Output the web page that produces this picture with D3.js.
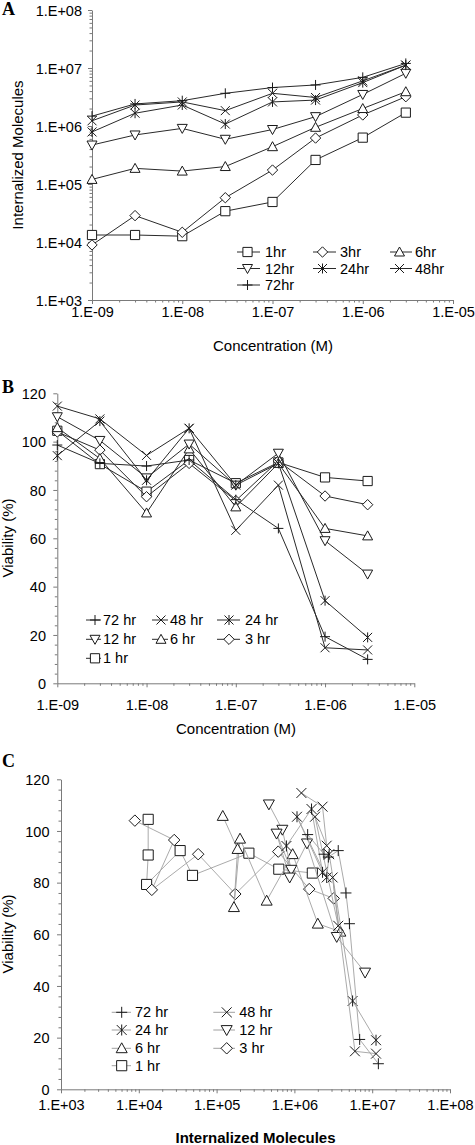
<!DOCTYPE html>
<html><head><meta charset="utf-8">
<script src="https://cdn.jsdelivr.net/npm/d3@7"></script>
<style>
body{margin:0;background:#fff;}
svg text{font-family:"Liberation Sans",Arial,sans-serif;fill:#000;}
</style></head><body>
<svg id="chart" width="475" height="1145"></svg>
<script>
// ---------- DATA ----------
const concentrations = [1e-9, 3e-9, 1e-8, 3e-8, 1e-7, 3e-7, 1e-6, 3e-6];
const seriesNames = ["1hr", "3hr", "6hr", "12hr", "24hr", "48hr", "72hr"];
const markerTypes = ["square", "diamond", "triUp", "triDown", "asterisk", "cross", "plus"];

// Panel A: internalized molecules per concentration
const molecules1hr  = [1.32e4, 1.32e4, 1.26e4, 3.4e4, 4.9e4, 2.6e5, 6.3e5, 1.7e6];
const molecules3hr  = [8.9e3, 2.85e4, 1.47e4, 5.8e4, 1.74e5, 6.2e5, 1.55e6, 3.2e6];
const molecules6hr  = [1.2e5, 1.86e5, 1.67e5, 2.0e5, 4.4e5, 9.5e5, 2.0e6, 3.9e6];
const molecules12hr = [4.7e5, 7.0e5, 9.1e5, 5.9e5, 8.7e5, 1.45e6, 3.5e6, 8.1e6];
const molecules24hr = [7.9e5, 1.66e6, 2.3e6, 1.08e6, 2.6e6, 2.8e6, 5.6e6, 1.12e7];
const molecules48hr = [1.23e6, 2.3e6, 2.6e6, 1.84e6, 3.66e6, 3.1e6, 6.0e6, 1.12e7];
const molecules72hr = [1.48e6, 2.4e6, 2.73e6, 3.66e6, 4.6e6, 5.1e6, 6.9e6, 1.2e7];

// Panel B: viability (%) per concentration
const viability1hr  = [104.5, 90.7, 79.3, 92.4, 82.8, 91.4, 85.2, 83.7];
const viability3hr  = [104, 96.5, 77.2, 91, 75.6, 92, 77.5, 73.9];
const viability6hr  = [105.8, 93, 70.5, 97, 73, 91, 64.1, 61];
const viability12hr = [110.3, 100.5, 85, 99, 82, 95.2, 59, 45.2];
const viability24hr = [94.2, 108.5, 84, 105.5, 82, 91, 34.2, 19];
const viability48hr = [114.7, 109.4, 94.3, 105.5, 63.3, 82, 14.7, 13.8];
const viability72hr = [98.6, 91, 89.9, 92.4, 76, 64.1, 19.3, 9.9];

const moleculeTicks = [1e3, 1e4, 1e5, 1e6, 1e7, 1e8];
const moleculeTickLabels = ["1.E+03", "1.E+04", "1.E+05", "1.E+06", "1.E+07", "1.E+08"];
const concTicks = [1e-9, 1e-8, 1e-7, 1e-6, 1e-5];
const concTickLabels = ["1.E-09", "1.E-08", "1.E-07", "1.E-06", "1.E-05"];
const viabilityTicks = [0, 20, 40, 60, 80, 100, 120];

const legendA = ["1hr", "3hr", "6hr", "12hr", "24hr", "48hr", "72hr"];
const legendB = ["72 hr", "48 hr", "24 hr", "12 hr", "6 hr", "3 hr", "1 hr"];
const legendC = ["72 hr", "48 hr", "24 hr", "12 hr", "6 hr", "3 hr", "1 hr"];

const moleculesBySeries = [molecules1hr, molecules3hr, molecules6hr, molecules12hr, molecules24hr, molecules48hr, molecules72hr];
const viabilityBySeries = [viability1hr, viability3hr, viability6hr, viability12hr, viability24hr, viability48hr, viability72hr];

// ---------- HELPERS ----------
const svg = d3.select("#chart");
const AXIS = "#7a7a7a";

function markerPath(type, k) {
  const s = 4.6 * k, d = 5.2 * k, c = 4.5 * k, p = 5 * k;
  switch (type) {
    case "square": return `M${-s},${-s}H${s}V${s}H${-s}Z`;
    case "diamond": return `M0,${-d}L${d},0L0,${d}L${-d},0Z`;
    case "triUp": return `M0,${-5*k}L${5*k},${4*k}L${-5*k},${4*k}Z`;
    case "triDown": return `M0,${5*k}L${5*k},${-4*k}L${-5*k},${-4*k}Z`;
    case "cross": return `M${-c},${-c}L${c},${c}M${-c},${c}L${c},${-c}`;
    case "asterisk": return `M${-c},${-c}L${c},${c}M${-c},${c}L${c},${-c}M0,${-p}L0,${p}`;
    case "plus": return `M${-p},0L${p},0M0,${-p}L0,${p}`;
  }
}
function isClosed(t){ return t==="square"||t==="diamond"||t==="triUp"||t==="triDown"; }

function logMinors(lo, hi) {
  const out = [];
  for (let e = Math.log10(lo); e < Math.log10(hi); e++)
    for (let m = 2; m <= 9; m++) out.push(m * Math.pow(10, e));
  return out;
}

function styleAxis(g) {
  g.selectAll("path.domain").attr("stroke", AXIS).attr("stroke-width", 1);
  g.selectAll(".tick line").attr("stroke", AXIS).attr("stroke-width", 1);
  g.selectAll("text").attr("font-family", null).attr("font-size", null)
    .style("font-size", "14.5px");
  g.attr("font-family", null).attr("font-size", null);
}

function drawXAxis(scale, yPos, ticks, labels, minors, labelBaseline) {
  const g = svg.append("g").attr("transform", `translate(0,${yPos})`)
    .call(d3.axisBottom(scale).tickValues(ticks).tickFormat((d, i) => labels[i]).tickSize(4).tickSizeOuter(0));
  styleAxis(g);
  g.selectAll(".tick text").attr("y", labelBaseline - yPos).attr("dy", 0);
  if (minors) {
    const gm = svg.append("g").attr("transform", `translate(0,${yPos})`)
      .call(d3.axisBottom(scale).tickValues(minors).tickFormat("").tickSize(2.5).tickSizeOuter(0));
    gm.select("path.domain").remove();
    styleAxis(gm);
  }
}
function drawYAxis(scale, xPos, ticks, labels, minors, labelRight) {
  const g = svg.append("g").attr("transform", `translate(${xPos},0)`)
    .call(d3.axisLeft(scale).tickValues(ticks).tickFormat((d, i) => labels ? labels[i] : d).tickSize(4).tickSizeOuter(0));
  styleAxis(g);
  g.selectAll(".tick text").attr("x", labelRight - xPos).attr("dy", "0.35em");
  if (minors) {
    const gm = svg.append("g").attr("transform", `translate(${xPos},0)`)
      .call(d3.axisLeft(scale).tickValues(minors).tickFormat("").tickSize(2.5).tickSizeOuter(0));
    gm.select("path.domain").remove();
    styleAxis(gm);
  }
}

function drawSeries(points, x, y, type, lineColor, lineWidth, k) {
  const line = d3.line().x(d => x(d.x)).y(d => y(d.y));
  svg.append("path").datum(points).attr("d", line)
    .attr("fill", "none").attr("stroke", lineColor).attr("stroke-width", lineWidth);
  svg.append("g").selectAll("path").data(points).join("path")
    .attr("transform", d => `translate(${x(d.x)},${y(d.y)})`)
    .attr("d", markerPath(type, k))
    .attr("fill", isClosed(type) ? "#fff" : "none")
    .attr("stroke", "#1a1a1a").attr("stroke-width", 1);
}

function drawLegend(names, types, cols, rows, lineColor, k) {
  names.forEach((name, i) => {
    const c = cols[i % cols.length], yy = rows[Math.floor(i / cols.length)];
    svg.append("line").attr("x1", c.l0).attr("x2", c.l1).attr("y1", yy).attr("y2", yy)
      .attr("stroke", lineColor).attr("stroke-width", 1);
    svg.append("path").attr("transform", `translate(${c.m},${yy})`)
      .attr("d", markerPath(types[i], k))
      .attr("fill", isClosed(types[i]) ? "#fff" : "none")
      .attr("stroke", "#1a1a1a").attr("stroke-width", 1);
    svg.append("text").attr("x", c.t).attr("y", yy).attr("dy", "0.35em")
      .style("font-size", "14.5px").text(name);
  });
}

function panelLabel(txt, x, y) {
  svg.append("text").attr("x", x).attr("y", y).text(txt)
    .style("font-family", "'Liberation Serif','Times New Roman',serif")
    .style("font-weight", "bold").style("font-size", "18px");
}
function axisTitle(txt, x, y, rotate, bold) {
  const t = svg.append("text").attr("text-anchor", "middle").style("font-size", "15px").text(txt);
  if (bold) t.style("font-weight", "bold");
  if (rotate) t.attr("transform", `translate(${x},${y}) rotate(-90)`);
  else t.attr("x", x).attr("y", y);
}

// ---------- PANEL A ----------
const xA = d3.scaleLog().domain([1e-9, 1e-5]).range([92, 453]);
const yA = d3.scaleLog().domain([1e3, 1e8]).range([300, 10]);
drawYAxis(yA, 92, moleculeTicks, moleculeTickLabels, logMinors(1e3, 1e8), 82);
drawXAxis(xA, 300, concTicks, concTickLabels, logMinors(1e-9, 1e-5), 317);
seriesNames.forEach((s, i) => {
  const pts = concentrations.map((c, j) => ({ x: c, y: moleculesBySeries[i][j] }));
  drawSeries(pts, xA, yA, markerTypes[i], "#2a2a2a", 1, 1);
});
drawLegend(legendA, markerTypes,
  [{ l0: 237, l1: 260, m: 247.5, t: 265 }, { l0: 313, l1: 336, m: 322.5, t: 340 }, { l0: 390, l1: 412, m: 399.5, t: 415 }],
  [252, 268.5, 285], "#2a2a2a", 1);
panelLabel("A", 2, 15);
axisTitle("Concentration (M)", 273, 351, false);
axisTitle("Internalized Molecules", 23, 155, true);

// ---------- PANEL B ----------
const xB = d3.scaleLog().domain([1e-9, 1e-5]).range([57.3, 414.3]);
const yB = d3.scaleLinear().domain([0, 120]).range([683.3, 393.3]);
const viabMinors = d3.range(0, 121, 4).filter(v => v % 20 !== 0);
drawYAxis(yB, 57.3, viabilityTicks, null, viabMinors, 46);
drawXAxis(xB, 683.3, concTicks, concTickLabels, logMinors(1e-9, 1e-5), 710);
const orderB = [6, 5, 4, 3, 2, 1, 0];
seriesNames.forEach((s, i) => {
  const pts = concentrations.map((c, j) => ({ x: c, y: viabilityBySeries[i][j] }));
  drawSeries(pts, xB, yB, markerTypes[i], "#2a2a2a", 1, 1);
});
drawLegend(legendB, orderB.map(i => markerTypes[i]),
  [{ l0: 86, l1: 101, m: 95, t: 103 }, { l0: 152, l1: 168, m: 161, t: 170 }, { l0: 217, l1: 240, m: 229, t: 245 }],
  [620, 639.3, 658.3], "#2a2a2a", 1);
panelLabel("B", 2, 393);
axisTitle("Concentration (M)", 236, 734, false);
axisTitle("Viability (%)", 12.5, 538, true);

// ---------- PANEL C ----------
const xC = d3.scaleLog().domain([1e3, 1e8]).range([61, 450]);
const yC = d3.scaleLinear().domain([0, 120]).range([1089.3, 779.3]);
drawYAxis(yC, 61, viabilityTicks, null, viabMinors, 49.5);
drawXAxis(xC, 1089.3, moleculeTicks, moleculeTickLabels, logMinors(1e3, 1e8), 1110);
seriesNames.forEach((s, i) => {
  const pts = concentrations.map((c, j) => ({ x: moleculesBySeries[i][j], y: viabilityBySeries[i][j] }));
  drawSeries(pts, xC, yC, markerTypes[i], "#a0a0a0", 0.9, 1.1);
});
drawLegend(legendC, orderB.map(i => markerTypes[i]),
  [{ l0: 111.7, l1: 131, m: 121.7, t: 135 }, { l0: 213.3, l1: 235, m: 226.7, t: 239.3 }],
  [1012.3, 1030, 1048.3, 1065.7], "#a0a0a0", 1.1);
panelLabel("C", 2, 767);
axisTitle("Internalized Molecules", 255.5, 1143, false, true);
axisTitle("Viability (%)", 12.5, 934, true);
</script>
</body></html>
